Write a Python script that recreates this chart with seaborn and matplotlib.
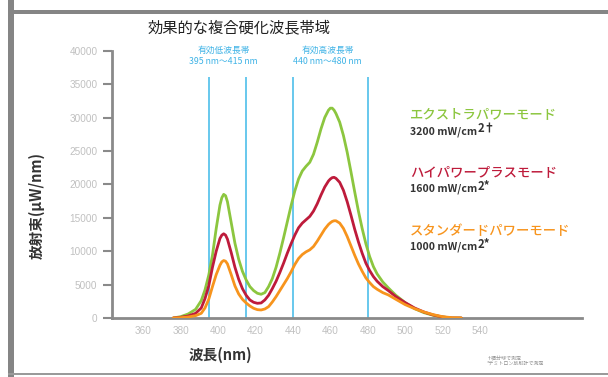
import numpy as np
import pandas as pd
import matplotlib
matplotlib.use("Agg")
import matplotlib.pyplot as plt
from matplotlib.patches import Rectangle
from matplotlib.transforms import IdentityTransform
import seaborn as sns

# Spectral irradiance (µW/nm) of the three curing modes
wavelength = [376, 380, 384, 388, 391, 393, 395, 397, 399, 401, 402, 403, 404, 405,
              407, 409, 411, 413, 415, 417, 419, 421, 423, 425, 427, 429, 431, 433,
              435, 437, 439, 441, 443, 445, 447, 449, 451, 453, 455, 457, 459, 460,
              461, 462, 463, 465, 467, 469, 471, 473, 475, 477, 479, 481, 483, 485,
              488, 491, 495, 500, 505, 510, 515, 520, 525, 530]
extra_power = [0, 200, 600, 1300, 2600, 4200, 6400, 9400, 13400, 16900, 18000, 18500,
               18300, 17400, 14300, 11200, 8800, 7000, 5700, 4700, 4100, 3700, 3550,
               3800, 4700, 5900, 7600, 9700, 12000, 14400, 16800, 19000, 20800, 22000,
               22700, 23300, 24500, 26300, 28300, 30000, 31100, 31400, 31400, 31100,
               30600, 29300, 27300, 24800, 21900, 18900, 16000, 13400, 11100, 9200,
               7700, 6600, 5400, 4500, 3400, 2300, 1400, 800, 400, 150, 0, 0]
high_power_plus = [0, 100, 300, 700, 1500, 2900, 4800, 7600, 10000, 11900, 12400, 12600,
                   12400, 11800, 9800, 7600, 5800, 4400, 3400, 2700, 2350, 2200, 2250,
                   2700, 3400, 4400, 5500, 6800, 8200, 9700, 11100, 12400, 13500, 14200,
                   14700, 15200, 16000, 17100, 18400, 19600, 20500, 20800, 21000, 21050,
                   20900, 20300, 19100, 17400, 15400, 13300, 11400, 9700, 8200, 7100,
                   6200, 5500, 4700, 4100, 3200, 2300, 1500, 900, 450, 150, 0, 0]
standard_power = [0, 50, 150, 350, 700, 1500, 2800, 4700, 6500, 7900, 8400, 8600, 8500,
                  8100, 6500, 4800, 3600, 2800, 2250, 1800, 1450, 1250, 1200, 1350, 1700,
                  2400, 3200, 4100, 5000, 5900, 6900, 8000, 8900, 9500, 9900, 10200,
                  10700, 11500, 12400, 13300, 14000, 14250, 14450, 14550, 14550, 14200,
                  13400, 12200, 10800, 9400, 8100, 7000, 6000, 5300, 4700, 4300, 3800,
                  3450, 2800, 2000, 1400, 900, 500, 200, 50, 0]

mode_names = ["エクストラパワーモード", "ハイパワープラスモード", "スタンダードパワーモード"]
mode_irradiance = ["3200 mW/cm", "1600 mW/cm", "1000 mW/cm"]
mode_marks = ["2†", "2*", "2*"]
mode_colors = ["#8cc63f", "#be1b3b", "#f7941d"]

band_edges = [395, 415, 440, 480]
band_titles = ["有効低波長帯", "有効高波長帯"]
band_ranges = ["395 nm～415 nm", "440 nm～480 nm"]

x_ticks = [360, 380, 400, 420, 440, 460, 480, 500, 520, 540]
y_ticks = [0, 5000, 10000, 15000, 20000, 25000, 30000, 35000, 40000]

footnotes = ["†積分球で測定", "*デミトロン放射計で測定"]

sns.set_theme(style="white")
plt.rcParams["font.family"] = ["Noto Sans CJK JP", "DejaVu Sans"]

W, H = 608, 377
fig = plt.figure(figsize=(W / 100, H / 100), dpi=100)
fig.patch.set_facecolor("white")


def fx(px):
    return px / W


def fy(py):
    return 1 - py / H


# page frame
frame_gray = "#858585"
fig.patches.append(Rectangle((fx(8), fy(377)), fx(6), 1, transform=fig.transFigure,
                             color=frame_gray, lw=0, zorder=0))
fig.patches.append(Rectangle((fx(8), fy(14)), 1, 4 / H, transform=fig.transFigure,
                             color=frame_gray, lw=0, zorder=0))
fig.patches.append(Rectangle((fx(8), fy(375)), 1, 2 / H, transform=fig.transFigure,
                             color="#9a9a9a", lw=0, zorder=0))

ax = fig.add_axes([fx(112), fy(318), fx(582 - 112), (318 - 50.7) / H])
ax.set_facecolor("none")

df = pd.concat([
    pd.DataFrame({"wavelength": wavelength, "irradiance": vals, "mode": name})
    for name, vals in zip(mode_names, [extra_power, high_power_plus, standard_power])
])
palette = dict(zip(mode_names, mode_colors))
sns.lineplot(data=df, x="wavelength", y="irradiance", hue="mode", palette=palette,
             linewidth=2.0, legend=False, sort=False, estimator=None, ax=ax, zorder=3,
             solid_joinstyle="round", solid_capstyle="round")

# effective wavelength bands
band_color = "#5cc4ec"
ax.vlines(band_edges, 0, 36000, colors=band_color, linewidth=1.3, zorder=2)

ax.set_xlim(343.3, 594.5)
ax.set_ylim(0, 40000)
ax.set_xticks(x_ticks)
ax.set_yticks(y_ticks)
ax.set_xticklabels([str(t) for t in x_ticks])
ax.set_yticklabels([str(t) for t in y_ticks])

for side in ["top", "right"]:
    ax.spines[side].set_visible(False)
for side in ["left", "bottom"]:
    ax.spines[side].set_color("#8a8a8a")
    ax.spines[side].set_linewidth(2)

tick_font = "Liberation Sans"
ax.tick_params(axis="y", length=6.5, width=1.5, color="#8a8a8a", labelcolor="#c0c0c0",
               labelsize=7.2, pad=4, direction="out", left=True)
ax.tick_params(axis="x", length=0, labelcolor="#c0c0c0", labelsize=7.2, pad=6,
               bottom=True)
for lab in ax.get_xticklabels() + ax.get_yticklabels():
    lab.set_fontfamily(tick_font)

ax.set_xlabel("波長(nm)", fontsize=10.5, fontweight="bold", color="#333333")
ax.xaxis.set_label_coords((220 - 112) / 470, -(355 - 318) / 267.3)
ax.xaxis.label.set_verticalalignment("center")
ax.set_ylabel("放射束(µW/nm)", fontsize=10.5, fontweight="bold", color="#333333")
ax.yaxis.set_label_coords((36.7 - 112) / 470, (318 - 205) / 267.3)
ax.yaxis.label.set_verticalalignment("center")

fig.text(fx(239), fy(28), "効果的な複合硬化波長帯域", ha="center", va="center",
         fontsize=11, color="#222222")

band_centers = [223.5, 327.5]
for cx, ttl, rng in zip(band_centers, band_titles, band_ranges):
    fig.text(fx(cx), fy(50.7), ttl, ha="center", va="center", fontsize=6.3,
             color="#3fb3e6")
    fig.text(fx(cx), fy(61.5), rng, ha="center", va="center", fontsize=6.3,
             color="#3fb3e6")

name_y = [114, 172, 231.5]
value_y = [131.5, 189, 246.5]
fig.canvas.draw()
renderer = fig.canvas.get_renderer()
for name, col, yy, val, mark, vy in zip(mode_names, mode_colors, name_y, mode_irradiance,
                                         mode_marks, value_y):
    fig.text(fx(410), fy(yy), name, ha="left", va="center", fontsize=9.6,
             color=col, fontweight="medium")
    t = fig.text(fx(410), fy(vy), val, ha="left", va="center", fontsize=7.6,
                 color="#333333", fontweight="bold")
    bb = t.get_window_extent(renderer=renderer)
    fig.text(bb.x1 + 0.5, (H - vy) + 2.5, mark, ha="left", va="center", fontsize=8.2,
             color="#333333", fontweight="bold", transform=IdentityTransform())

for i, note in enumerate(footnotes):
    fig.text(fx(487), fy(358 + i * 5.5), note, ha="left", va="center", fontsize=3.6,
             color="#909090")

fig.savefig("out.png", dpi=100, facecolor="white")
